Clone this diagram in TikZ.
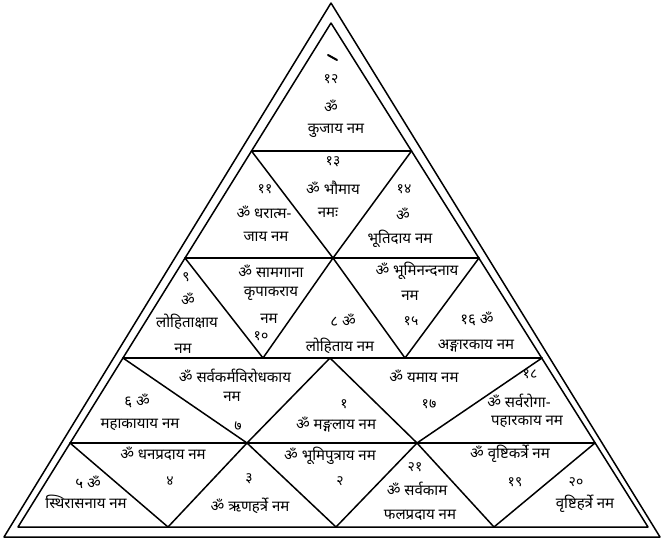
\documentclass[tikz,border=0pt]{standalone}
\usepackage{fontspec}
\setmainfont[Script=Devanagari]{Noto Sans}
\begin{document}
\begin{tikzpicture}[x=1pt,y=-1pt,
  edge/.style={line width=1.5pt, line join=round, line cap=round},
  txt/.style={font=\fontsize{15}{16}\selectfont, inner sep=0pt, anchor=center},
  num/.style={font=\fontsize{14}{15}\selectfont, inner sep=0pt, anchor=center}]
\useasboundingbox (0,0) rectangle (662,539);
% outer triangle
\coordinate (OA) at (331,3);
\coordinate (OBL) at (4,537);
\coordinate (OBR) at (660,537);
% inner triangle
\coordinate (A) at (331,23);
\coordinate (BL) at (18,527);
\coordinate (BR) at (648,527);
% side points
\coordinate (L1) at (251.5,151); \coordinate (R1) at (411.5,151);
\coordinate (L2) at (185,258);   \coordinate (R2) at (479,258);
\coordinate (L3) at (123,358);   \coordinate (R3) at (542,358);
\coordinate (L4) at (70,443);    \coordinate (R4) at (595,443);
% inner points
\coordinate (M2) at (333,258);
\coordinate (B3a) at (263,358); \coordinate (B3b) at (405,358);
\coordinate (M3) at (330,358);
\coordinate (B4a) at (247,443); \coordinate (B4b) at (417,443);
\coordinate (B5a) at (168,527); \coordinate (B5b) at (336,527); \coordinate (B5c) at (494,527);

\draw[edge] (OA) -- (OBL) -- (OBR) -- cycle;
\draw[edge] (A) -- (BL) -- (BR) -- cycle;
\draw[edge] (L1) -- (R1);
\draw[edge] (L2) -- (R2);
\draw[edge] (L3) -- (R3);
\draw[edge] (L4) -- (R4);
% row 2
\draw[edge] (L1) -- (M2) -- (R1);
% row 3
\draw[edge] (L2) -- (B3a) -- (M2) -- (B3b) -- (R2);
% row 4
\draw[edge] (L3) -- (B4a) -- (M3) -- (B4b) -- (R3);
% row 5
\draw[edge] (L4) -- (B5a) -- (B4a) -- (B5b) -- (B4b) -- (B5c) -- (R4);

% top mark
\draw[line width=2pt, line cap=round] (328,55) -- (337,60);

% top triangle
\node[num] (n12) at (331,79) {१२};
\node[txt] (t1a) at (331,106) {ॐ};
\node[txt] (t1b) at (336,131) {कुजाय नम};
% row 2
\node[num] (n11) at (265,189) {११};
\node[txt] (t11a) at (264,212) {ॐ धरात्म-};
\node[txt] (t11b) at (266,237) {जाय नम};
\node[num] (n13) at (333,162) {१३};
\node[txt] (t13a) at (333,188) {ॐ भौमाय};
\node[txt] (t13b) at (328,213) {नमः};
\node[num] (n14) at (404,189) {१४};
\node[txt] (t14a) at (403,214) {ॐ};
\node[txt] (t14b) at (400,239) {भूतिदाय नम};
% row 3
\node[num] (n9) at (186,277) {९};
\node[txt] (t9a) at (188,299) {ॐ};
\node[txt] (t9b) at (187,322) {लोहिताक्षाय};
\node[txt] (t9c) at (183,349) {नम};
\node[txt] (t10a) at (271,271) {ॐ सामगाना};
\node[txt] (t10b) at (271,294) {कृपाकराय};
\node[txt] (t10c) at (269,319) {नम};
\node[num] (n10) at (261,336) {१०};
\node[txt] (t8a) at (343,320) {८ ॐ};
\node[txt] (t8b) at (340,346) {लोहिताय नम};
\node[txt] (t15a) at (417,271) {ॐ भूमिनन्दनाय};
\node[txt] (t15b) at (410,296) {नम};
\node[num] (n15) at (411,321) {१५};
\node[txt] (t16a) at (477,319) {१६ ॐ};
\node[txt] (t16b) at (476,346) {अङ्गारकाय नम};
% row 4
\node[txt] (t6a) at (137,401) {६ ॐ};
\node[txt] (t6b) at (140,425) {महाकायाय नम};
\node[txt] (t7a) at (235,376) {ॐ सर्वकर्मविरोधकाय};
\node[txt] (t7b) at (232,397) {नम};
\node[num] (n7) at (238,426) {७};
\node[num] (n1) at (344,404) {१};
\node[txt] (t1m) at (336,425) {ॐ मङ्गलाय नम};
\node[txt] (t17a) at (424,376) {ॐ यमाय नम};
\node[num] (n17) at (429,404) {१७};
\node[num] (n18) at (530,374) {१८};
\node[txt] (t18a) at (519,401) {ॐ सर्वरोगा-};
\node[txt] (t18b) at (527,422) {पहारकाय नम};
% row 5
\node[txt] (t5a) at (88,482) {५ ॐ};
\node[txt] (t5b) at (86,502) {स्थिरासनाय नम};
\node[txt] (t4a) at (163,454) {ॐ धनप्रदाय नम};
\node[num] (n4) at (170,481) {४};
\node[num] (n3) at (249,479) {३};
\node[txt] (t3a) at (250,506) {ॐ ऋणहर्त्रे नम};
\node[txt] (t2a) at (330,456) {ॐ भूमिपुत्राय नम};
\node[num] (n2) at (340,481) {२};
\node[num] (n21) at (415,467) {२१};
\node[txt] (t21a) at (417,489) {ॐ सर्वकाम};
\node[txt] (t21b) at (420,515) {फलप्रदाय नम};
\node[txt] (t19a) at (510,454) {ॐ वृष्टिकर्त्रे नम};
\node[num] (n19) at (515,482) {१९};
\node[num] (n20) at (576,482) {२०};
\node[txt] (t20a) at (585,504) {वृष्टिहर्त्रे नम};
\end{tikzpicture}
\end{document}
